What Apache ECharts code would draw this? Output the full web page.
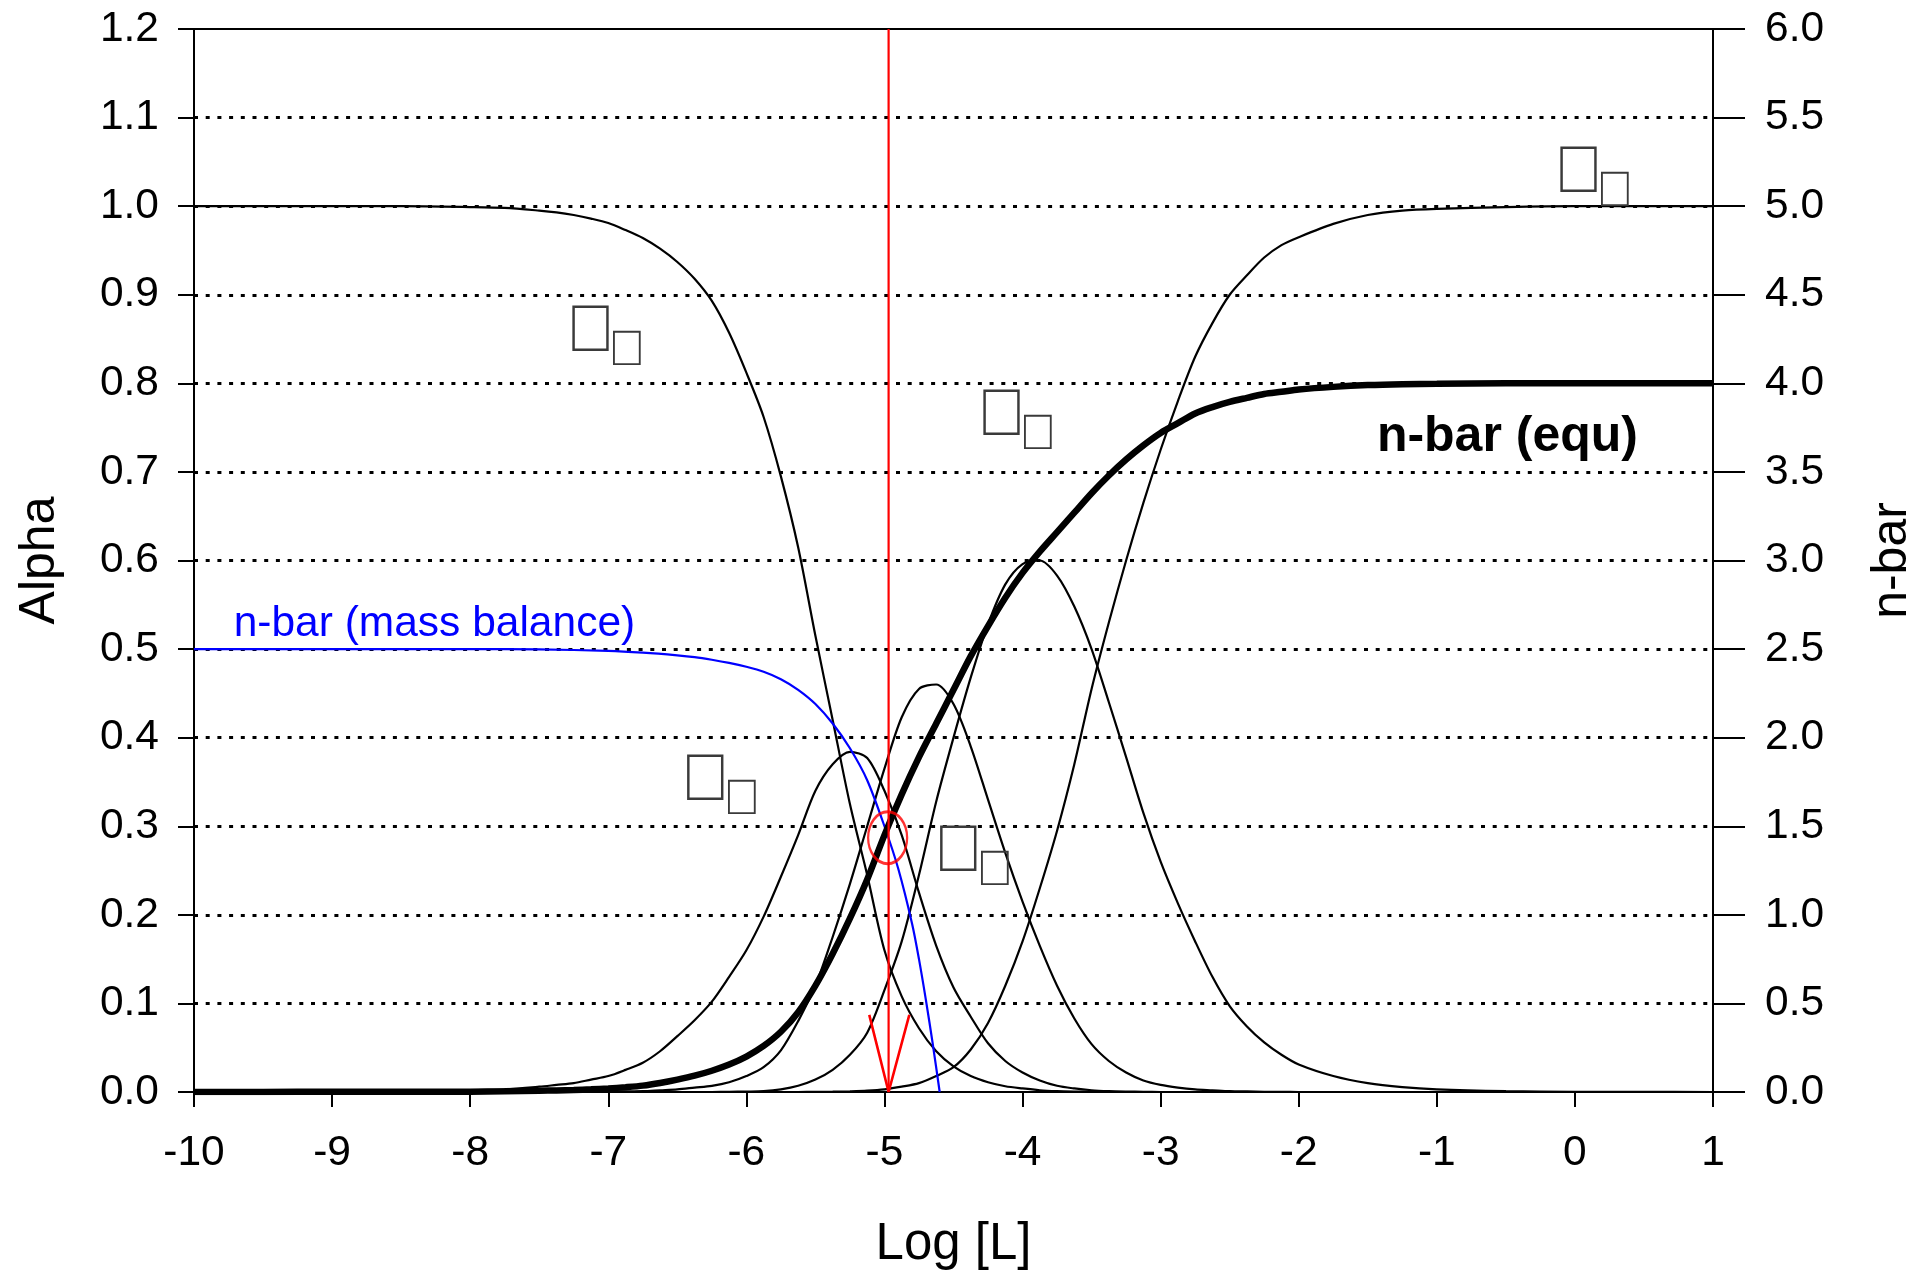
<!DOCTYPE html>
<html><head><meta charset="utf-8">
<script src="https://cdn.jsdelivr.net/npm/echarts@6/dist/echarts.min.js"></script>
<style>html,body{margin:0;padding:0;background:#fff;overflow:hidden}#c{width:1920px;height:1272px}</style>
</head><body><div id="c"></div>
<script>
// ---- data ----
const logL = [-10, -9.5, -9, -8.5, -8, -7.75, -7.5, -7.375, -7.25, -7.125, -7, -6.875, -6.75, -6.625, -6.5, -6.375, -6.25, -6.125, -6, -5.875, -5.75, -5.625, -5.5, -5.375, -5.25, -5.125, -5, -4.875, -4.75, -4.625, -4.5, -4.375, -4.25, -4.125, -4, -3.875, -3.75, -3.625, -3.5, -3.375, -3.25, -3.125, -3, -2.875, -2.75, -2.625, -2.5, -2.375, -2.25, -2.125, -2, -1.75, -1.5, -1.25, -1, -0.5, 0, 0.5, 1];
const alpha0 = [1, 1, 1, 1, 0.999, 0.998, 0.995, 0.993, 0.99, 0.986, 0.981, 0.973, 0.964, 0.952, 0.937, 0.918, 0.893, 0.857, 0.812, 0.762, 0.695, 0.615, 0.515, 0.42, 0.325, 0.245, 0.16, 0.108, 0.072, 0.046, 0.029, 0.018, 0.011, 0.0065, 0.004, 0.002, 0.001, 0.0005, 0.0002, 0, 0, 0, 0, 0, 0, 0, 0, 0, 0, 0, 0, 0, 0, 0, 0, 0, 0, 0, 0];
const alpha1 = [0, 0, 0.0002, 0.0007, 0.002, 0.003, 0.006, 0.008, 0.01, 0.014, 0.018, 0.025, 0.033, 0.046, 0.063, 0.081, 0.102, 0.13, 0.16, 0.198, 0.243, 0.29, 0.34, 0.37, 0.384, 0.377, 0.34, 0.29, 0.225, 0.165, 0.118, 0.085, 0.055, 0.035, 0.022, 0.013, 0.007, 0.004, 0.002, 0.001, 0.0005, 0.0002, 0, 0, 0, 0, 0, 0, 0, 0, 0, 0, 0, 0, 0, 0, 0, 0, 0];
const alpha2 = [0, 0, 0, 0, 0, 0, 0, 0.0001, 0.0002, 0.0003, 0.0005, 0.0007, 0.001, 0.002, 0.003, 0.005, 0.007, 0.011, 0.018, 0.028, 0.047, 0.08, 0.12, 0.175, 0.235, 0.30, 0.365, 0.423, 0.455, 0.46, 0.438, 0.39, 0.33, 0.27, 0.215, 0.165, 0.12, 0.083, 0.054, 0.035, 0.022, 0.013, 0.008, 0.005, 0.003, 0.002, 0.001, 0.0006, 0.0003, 0.0001, 0, 0, 0, 0, 0, 0, 0, 0, 0];
const alpha3 = [0, 0, 0, 0, 0, 0, 0, 0, 0, 0, 0, 0, 0, 0, 0, 0, 0, 0.0002, 0.0005, 0.001, 0.003, 0.007, 0.014, 0.025, 0.042, 0.067, 0.115, 0.17, 0.245, 0.328, 0.40, 0.468, 0.528, 0.573, 0.596, 0.60, 0.583, 0.548, 0.50, 0.44, 0.378, 0.315, 0.26, 0.213, 0.17, 0.13, 0.097, 0.074, 0.056, 0.042, 0.031, 0.018, 0.01, 0.0055, 0.003, 0.001, 0.0003, 0.0001, 0];
const alpha4 = [0, 0, 0, 0, 0, 0, 0, 0, 0, 0, 0, 0, 0, 0, 0, 0, 0, 0, 0, 0, 0, 0, 0.0002, 0.0004, 0.0008, 0.0015, 0.003, 0.006, 0.01, 0.018, 0.028, 0.048, 0.078, 0.12, 0.17, 0.23, 0.295, 0.37, 0.455, 0.53, 0.60, 0.665, 0.725, 0.78, 0.83, 0.868, 0.90, 0.922, 0.942, 0.956, 0.965, 0.98, 0.99, 0.995, 0.997, 0.999, 1, 1, 1];
const nbarEqu = [0, 0.0005, 0.001, 0.0015, 0.002, 0.004, 0.007, 0.009, 0.011, 0.015, 0.02, 0.027, 0.036, 0.051, 0.07, 0.092, 0.12, 0.155, 0.2, 0.26, 0.34, 0.45, 0.6, 0.78, 0.98, 1.2, 1.45, 1.68, 1.89, 2.08, 2.27, 2.46, 2.63, 2.79, 2.93, 3.05, 3.16, 3.27, 3.38, 3.48, 3.57, 3.65, 3.72, 3.775, 3.83, 3.866, 3.895, 3.918, 3.94, 3.952, 3.965, 3.98, 3.99, 3.995, 3.997, 4, 4, 4, 4];
const massLogL = [-10, -9, -8, -7.5, -7, -6.75, -6.5, -6.375, -6.25, -6.125, -6, -5.875, -5.75, -5.625, -5.5, -5.375, -5.25, -5.125, -5, -4.9, -4.8, -4.75, -4.7, -4.65, -4.6];
const nbarMass = [2.5, 2.5, 2.5, 2.498, 2.49, 2.48, 2.465, 2.455, 2.44, 2.422, 2.4, 2.372, 2.33, 2.27, 2.19, 2.08, 1.94, 1.76, 1.5, 1.26, 0.95, 0.75, 0.52, 0.27, 0];
const markerLogL = -4.97;            // red vertical line
const arrowLogL = [-5.11, -4.97, -4.82];
const arrowAlpha = [0.087, 0, 0.087];
const crossLogL = [-4.977];           // red circle (intersection)
const crossAlpha = [0.287];
const xTicks = [-10, -9, -8, -7, -6, -5, -4, -3, -2, -1, 0, 1];
const alphaTicks = [0, 0.1, 0.2, 0.3, 0.4, 0.5, 0.6, 0.7, 0.8, 0.9, 1.0, 1.1, 1.2];
const nbarTicks = [0, 0.5, 1, 1.5, 2, 2.5, 3, 3.5, 4, 4.5, 5, 5.5, 6];
// label anchors (data coords of big glyph top-left)
const alphaLabelPos = [[-7.248, 0.885], [-6.416, 0.378], [-4.584, 0.298], [-4.272, 0.790], [-0.094, 1.064]];
const alphaLabelSub = ['\uF030', '\uF031', '\uF032', '\uF033', '\uF034'];

// ---- chart ----
const FONT = 'Liberation Sans, Arial, sans-serif';
const pair = (xs, ys) => xs.map((x, i) => [x, ys[i]]);
const chart = echarts.init(document.getElementById('c'), null, {renderer: 'canvas', width: 1920, height: 1272});
const thinLine = (name, ys) => ({
  name, type: 'line', data: pair(logL, ys), showSymbol: false, symbol: 'none',
  smooth: 0.3, lineStyle: {color: '#000', width: 2.2}, z: 3
});
const option = {
  animation: false,
  backgroundColor: '#fff',
  textStyle: {fontFamily: FONT},
  grid: {left: 194, right: 207, top: 29, bottom: 180, containLabel: false, outerBoundsMode: 'none',
         show: true, borderColor: '#000', borderWidth: 2, backgroundColor: 'transparent'},
  xAxis: {
    type: 'value', min: xTicks[0], max: xTicks[xTicks.length - 1], interval: 1,
    name: 'Log [L]', nameLocation: 'middle', nameGap: 127,
    nameTextStyle: {fontSize: 51, color: '#000', fontFamily: FONT},
    axisLine: {show: true, onZero: false, lineStyle: {color: '#000', width: 2}},
    axisTick: {show: true, inside: false, length: 15, lineStyle: {color: '#000', width: 2}},
    axisLabel: {fontSize: 42.5, color: '#000', margin: 40, fontFamily: FONT},
    splitLine: {show: false}
  },
  yAxis: [{
    type: 'value', min: alphaTicks[0], max: alphaTicks[alphaTicks.length - 1], interval: 0.1, position: 'left',
    name: 'Alpha', nameLocation: 'middle', nameGap: 129,
    nameTextStyle: {fontSize: 50, color: '#000', fontFamily: FONT},
    axisLine: {show: true, onZero: false, lineStyle: {color: '#000', width: 2}},
    axisTick: {show: true, inside: false, length: 16, lineStyle: {color: '#000', width: 2}},
    axisLabel: {fontSize: 42.5, color: '#000', margin: 35, fontFamily: FONT, formatter: v => v.toFixed(1)},
    splitLine: {show: true, showMinLine: false, showMaxLine: false, lineStyle: {color: '#000', width: 3, type: [4, 7.7]}}
  }, {
    type: 'value', min: nbarTicks[0], max: nbarTicks[nbarTicks.length - 1], interval: 0.5, position: 'right',
    name: 'n-bar', nameLocation: 'middle', nameGap: 154,
    nameTextStyle: {fontSize: 50, color: '#000', fontFamily: FONT},
    axisLine: {show: true, onZero: false, lineStyle: {color: '#000', width: 2}},
    axisTick: {show: true, inside: false, length: 32, lineStyle: {color: '#000', width: 2}},
    axisLabel: {fontSize: 42.5, color: '#000', margin: 52, fontFamily: FONT, formatter: v => v.toFixed(1)},
    splitLine: {show: false}
  }],
  series: [
    thinLine('alpha0', alpha0),
    thinLine('alpha1', alpha1),
    thinLine('alpha2', alpha2),
    thinLine('alpha3', alpha3),
    thinLine('alpha4', alpha4),
    {name: 'n-bar (mass balance)', type: 'line', yAxisIndex: 1, data: pair(massLogL, nbarMass), showSymbol: false, symbol: 'none',
     smooth: 0.3, lineStyle: {color: '#0000ff', width: 2.2}, z: 4},
    {name: 'n-bar (equ)', type: 'line', yAxisIndex: 1, data: pair(logL, nbarEqu), showSymbol: false, symbol: 'none',
     smooth: 0.3, lineStyle: {color: '#000', width: 6.5}, z: 5},
    {name: 'marker', type: 'line', data: [[markerLogL, alphaTicks[0]], [markerLogL, alphaTicks[alphaTicks.length - 1]]],
     showSymbol: false, symbol: 'none', lineStyle: {color: '#ff0000', width: 2.2}, z: 6},
    {name: 'arrow', type: 'line', data: pair(arrowLogL, arrowAlpha), showSymbol: false, symbol: 'none',
     lineStyle: {color: '#ff0000', width: 2.6}, z: 6},
    {name: 'cross', type: 'scatter', data: pair(crossLogL, crossAlpha), symbol: 'circle', symbolSize: [39, 52],
     itemStyle: {color: 'rgba(0,0,0,0)', borderColor: '#ff0000', borderWidth: 2.6}, z: 7}
  ]
};
chart.setOption(option);

const px = p => chart.convertToPixel({xAxisIndex: 0, yAxisIndex: 0}, p);
const graphics = [];
alphaLabelPos.forEach((p, i) => {
  const [x, y] = px(p);
  graphics.push({type: 'text', x: x - 8.3, y: y - 8.5, z: 10,
    style: {text: '\uF061', fill: '#3a3a3a', fontSize: 66, fontFamily: FONT, align: 'left', verticalAlign: 'top', textAlign: 'left', textVerticalAlign: 'top'}});
  graphics.push({type: 'text', x: x + 34, y: y + 18, z: 10,
    style: {text: alphaLabelSub[i], fill: '#3a3a3a', fontSize: 50, fontFamily: FONT, align: 'left', verticalAlign: 'top', textAlign: 'left', textVerticalAlign: 'top'}});
});
const mb = px([-9.713, 0.528]);
graphics.push({type: 'text', x: mb[0], y: mb[1], z: 10,
  style: {text: 'n-bar (mass balance)', fill: '#0000ff', fontSize: 42.5, fontFamily: FONT, align: 'left', verticalAlign: 'middle', textAlign: 'left', textVerticalAlign: 'middle'}});
const eq = px([-1.434, 0.739]);
graphics.push({type: 'text', x: eq[0], y: eq[1], z: 10,
  style: {text: 'n-bar (equ)', fill: '#000', fontSize: 50, fontWeight: 'bold', fontFamily: FONT, align: 'left', verticalAlign: 'middle', textAlign: 'left', textVerticalAlign: 'middle'}});
chart.setOption({graphic: graphics});
</script>
</body></html>
